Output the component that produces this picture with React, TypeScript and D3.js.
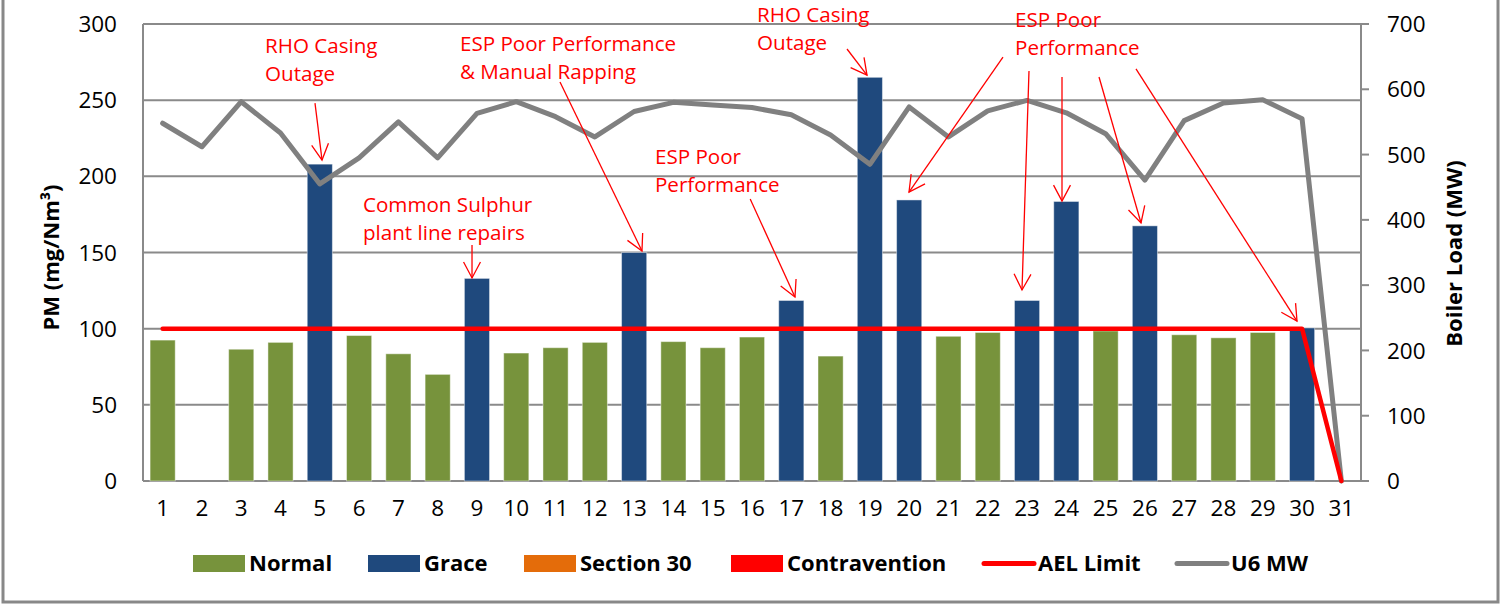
import React from "react";
import * as d3 from "d3";

// ---------- DATA ----------
const days: number[] = d3.range(1, 32);
const pmValues: (number | null)[] = [
  92.5, null, 86.5, 91, 208, 95.5, 83.5, 70, 133, 84,
  87.5, 91, 150, 91.5, 87.5, 94.5, 118.5, 82, 265, 184.5,
  95, 97.5, 118.5, 183.5, 98.5, 167.5, 96, 94, 97.5, 100.5, null,
];
const status: string[] = [
  "Normal", "Normal", "Normal", "Normal", "Grace", "Normal", "Normal", "Normal", "Grace", "Normal",
  "Normal", "Normal", "Grace", "Normal", "Normal", "Normal", "Grace", "Normal", "Grace", "Grace",
  "Normal", "Normal", "Grace", "Grace", "Normal", "Grace", "Normal", "Normal", "Normal", "Grace", "Normal",
];
const aelLimit: number[] = [
  100, 100, 100, 100, 100, 100, 100, 100, 100, 100,
  100, 100, 100, 100, 100, 100, 100, 100, 100, 100,
  100, 100, 100, 100, 100, 100, 100, 100, 100, 100, 0,
];
const u6MW: number[] = [
  548, 512, 581, 533, 455, 495, 550, 495, 563, 581,
  558, 527, 566, 580, 576, 572, 561, 530, 485, 573,
  527, 567, 583, 564, 532, 461, 552, 579, 584, 555, 0,
];
const leftTicks: number[] = [0, 50, 100, 150, 200, 250, 300];
const rightTicks: number[] = [0, 100, 200, 300, 400, 500, 600, 700];

const seriesColors: Record<string, string> = {
  Normal: "#77933C",
  Grace: "#1F497D",
  "Section 30": "#E46C0A",
  Contravention: "#FF0000",
  "AEL Limit": "#FF0000",
  "U6 MW": "#808080",
};
const legendItems: { label: string; kind: "box" | "line" }[] = [
  { label: "Normal", kind: "box" },
  { label: "Grace", kind: "box" },
  { label: "Section 30", kind: "box" },
  { label: "Contravention", kind: "box" },
  { label: "AEL Limit", kind: "line" },
  { label: "U6 MW", kind: "line" },
];

// annotations in data units (day, PM value)
const annotations = [
  { lines: ["RHO Casing", "Outage"], tx: 3.605, ty: 281.0,
    arrows: [[4.878, 248.1, 5.056, 210.7]] },
  { lines: ["Common Sulphur", "plant line repairs"], tx: 6.099, ty: 176.6,
    arrows: [[8.874, 154.9, 8.874, 133.3]] },
  { lines: ["ESP Poor Performance", "& Manual Rapping"], tx: 8.568, ty: 282.3,
    arrows: [[11.113, 261.9, 13.2, 151.0]] },
  { lines: ["ESP Poor", "Performance"], tx: 13.531, ty: 208.1,
    arrows: [[15.954, 185.1, 17.094, 120.8]] },
  { lines: ["RHO Casing", "Outage"], tx: 16.127, ty: 301.3,
    arrows: [[18.418, 283.6, 18.927, 266.5]] },
  { lines: ["ESP Poor", "Performance"], tx: 22.694, ty: 298.0,
    arrows: [
      [22.388, 278.3, 19.996, 189.7],
      [23.05, 269.2, 22.872, 125.4],
      [23.89, 265.2, 23.89, 183.8],
      [24.832, 265.2, 25.901, 169.4],
      [25.773, 270.5, 29.871, 105.0],
    ] },
];

// ---------- LAYOUT ----------
const W = 1505, H = 606;
const plotL = 143, plotR = 1361, plotT = 24, plotB = 481;
const legendX = [193, 368, 524, 731, 982, 1175];
const FONT = "'Open Sans', 'DejaVu Sans', sans-serif";

export default function App() {
  const x = d3.scaleBand<number>().domain(days).range([plotL, plotR])
    .paddingInner(0.36).paddingOuter(0.18);
  const bw = x.bandwidth();
  const cx = (d: number) => (x(d) as number) + bw / 2;
  const dayLin = d3.scaleLinear().domain([1, 31]).range([cx(1), cx(31)]);
  const yL = d3.scaleLinear().domain([0, 300]).range([plotB, plotT]);
  const yR = d3.scaleLinear().domain([0, 700]).range([plotB, plotT]);

  const aelLine = d3.line<number>().x((_, i) => cx(days[i])).y((v) => yL(v));
  const mwLine = d3.line<number>().x((_, i) => cx(days[i])).y((v) => yR(v));

  const arrowHead = (x1: number, y1: number, x2: number, y2: number) => {
    const ang = Math.atan2(y2 - y1, x2 - x1);
    const len = 18, spread = (28 * Math.PI) / 180;
    const a1 = ang + Math.PI - spread, a2 = ang + Math.PI + spread;
    return `M${x2 + len * Math.cos(a1)},${y2 + len * Math.sin(a1)}L${x2},${y2}L${x2 + len * Math.cos(a2)},${y2 + len * Math.sin(a2)}`;
  };

  return (
    <svg width={W} height={H} style={{ position: "absolute", left: 0, top: 0, background: "#fff" }}
      fontFamily={FONT}>
      {/* outer frame */}
      <rect x={3} y={-10} width={1495} height={612} fill="none" stroke="#888" strokeWidth={3} />

      {/* gridlines */}
      {leftTicks.map((t) => (
        <line key={"g" + t} x1={plotL} x2={plotR} y1={yL(t)} y2={yL(t)} stroke="#8a8a8a" strokeWidth={2} />
      ))}
      {/* axes lines */}
      <line x1={plotL} x2={plotL} y1={plotT} y2={plotB} stroke="#8a8a8a" strokeWidth={2} />
      <line x1={plotR} x2={plotR} y1={plotT} y2={plotB} stroke="#8a8a8a" strokeWidth={2} />
      <line x1={plotL} x2={plotR + 8} y1={plotB} y2={plotB} stroke="#8a8a8a" strokeWidth={2} />
      {rightTicks.map((t) => (
        <line key={"rt" + t} x1={plotR} x2={plotR + 8} y1={yR(t)} y2={yR(t)} stroke="#8a8a8a" strokeWidth={2} />
      ))}

      {/* bars */}
      {pmValues.map((v, i) =>
        v == null ? null : (
          <rect key={"b" + i} x={x(days[i])} y={yL(v)} width={bw} height={yL(0) - yL(v)}
            fill={seriesColors[status[i]]} stroke="rgba(255,255,255,0.45)" strokeWidth={1} />
        )
      )}

      {/* lines */}
      <path d={mwLine(u6MW) || ""} fill="none" stroke={seriesColors["U6 MW"]} strokeWidth={5}
        strokeLinejoin="round" strokeLinecap="round" />
      <path d={aelLine(aelLimit) || ""} fill="none" stroke={seriesColors["AEL Limit"]} strokeWidth={4.5}
        strokeLinejoin="round" strokeLinecap="round" />

      {/* tick labels */}
      {leftTicks.map((t) => (
        <text key={"lt" + t} x={117} y={yL(t)} dy="0.36em" textAnchor="end" fontSize={22.5} fill="#000">{t}</text>
      ))}
      {rightTicks.map((t) => (
        <text key={"rl" + t} x={1387} y={yR(t)} dy="0.36em" textAnchor="start" fontSize={22.5} fill="#000">{t}</text>
      ))}
      {days.map((d) => (
        <text key={"xt" + d} x={cx(d)} y={508} dy="0.36em" textAnchor="middle" fontSize={22.5} fill="#000">{d}</text>
      ))}

      {/* axis titles */}
      <text transform={`translate(59,${(plotT + plotB) / 2 + 5}) rotate(-90)`} textAnchor="middle"
        fontSize={22} fontWeight="bold" fill="#000">PM (mg/Nm³)</text>
      <text transform={`translate(1462,${(plotT + plotB) / 2 + 1}) rotate(-90)`} textAnchor="middle"
        fontSize={22} fontWeight="bold" fill="#000">Boiler Load (MW)</text>

      {/* annotations */}
      {annotations.map((a, ai) => (
        <g key={"a" + ai}>
          {a.lines.map((ln, li) => (
            <text key={li} x={dayLin(a.tx)} y={yL(a.ty) + li * 28} fontSize={20.6} fill="#FF0000">{ln}</text>
          ))}
          {a.arrows.map((ar, ri) => {
            const x1 = dayLin(ar[0]), y1 = yL(ar[1]), x2 = dayLin(ar[2]), y2 = yL(ar[3]);
            return (
              <g key={ri}>
                <line x1={x1} y1={y1} x2={x2} y2={y2} stroke="#FF0000" strokeWidth={1.3} />
                <path d={arrowHead(x1, y1, x2, y2)} fill="none" stroke="#FF0000" strokeWidth={1.3} />
              </g>
            );
          })}
        </g>
      ))}

      {/* legend */}
      {legendItems.map((it, i) => {
        const lx = legendX[i];
        return (
          <g key={"lg" + it.label}>
            {it.kind === "box" ? (
              <rect x={lx} y={555} width={52} height={17} fill={seriesColors[it.label]} />
            ) : (
              <line x1={lx + 2} x2={lx + 52} y1={563.5} y2={563.5} stroke={seriesColors[it.label]}
                strokeWidth={5} strokeLinecap="round" />
            )}
            <text x={lx + 56} y={563.5} dy="0.36em" fontSize={22} fontWeight="bold" fill="#000">{it.label}</text>
          </g>
        );
      })}
    </svg>
  );
}
